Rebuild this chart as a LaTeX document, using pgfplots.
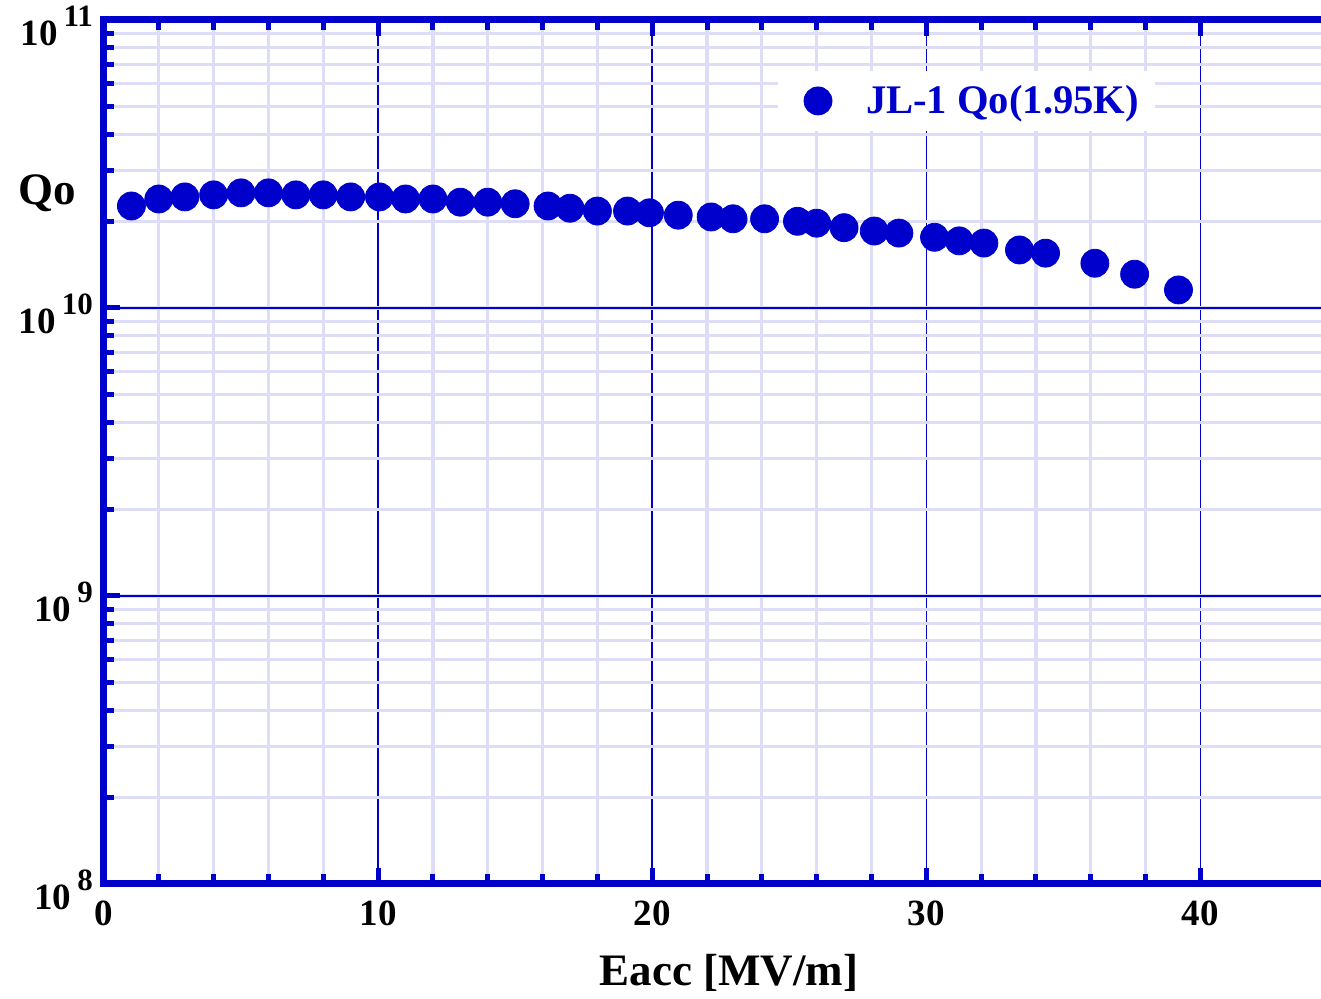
\documentclass[border=0pt]{standalone}
\usepackage{pgfplots}
\pgfplotsset{compat=1.18}
\usepackage{fontspec}
\setmainfont{Liberation Serif}
\definecolor{qblue}{RGB}{0,0,205}
\definecolor{gridlav}{RGB}{221,221,248}
% power-of-ten tick label with a large raised exponent
\newcommand\pw[1]{10\hspace{3pt}\raisebox{9.5pt}{\fontsize{15.5}{16}\selectfont #1}}
\begin{document}
\begin{tikzpicture}
\begin{axis}[
  name=ax,
  at={(0pt,0pt)}, anchor=south west,
  scale only axis,
  width=608.5pt, height=432pt,
  xmin=0, xmax=44.4,
  ymode=log, ymin=1e8, ymax=1e11,
  axis x line*=box, axis y line*=left,
  axis line style={qblue, line width=3.5pt, -, line cap=rect},
  tick align=inside,
  xtick={0,10,20,30,40},
  xticklabels={0,10,20,30,40},
  minor x tick num=4,
  xtick pos=both,
  ytick={1e8,1e9,1e10,1e11},
  yticklabels={\pw{8},\pw{9},\pw{10},\pw{11}},
  ytick pos=left,
  tick style={qblue, line width=2.5pt},
  major tick length=8pt,
  minor tick length=5pt,
  grid=both,
  major grid style={qblue, line width=0.8pt},
  minor grid style={gridlav, line width=1.6pt},
  tick label style={font=\fontsize{18.5}{20}\selectfont\bfseries, text=black},
  yticklabel style={anchor=base east, yshift=-13pt, xshift=-2pt},
  xticklabel style={anchor=base, yshift=-21pt},
  xlabel={Eacc [MV/m]},
  xlabel style={at={(rel axis cs:0.5136,0)}, anchor=center, yshift=-44.5pt,
    font=\fontsize{22.5}{24}\selectfont\bfseries},
  ylabel={Qo},
  ylabel style={at={(rel axis cs:-0.0468,0.80)}, anchor=center, rotate=-90,
    font=\fontsize{22.5}{24}\selectfont\bfseries},
  legend style={at={(rel axis cs:0.5535,0.9410)}, anchor=north west,
    draw=none, fill=white, font=\fontsize{20.3}{22}\selectfont\bfseries,
    text=qblue, inner xsep=6pt, inner ysep=5pt},
  legend image code/.code={\path[draw=none, fill=none] (0pt,-5pt) rectangle (36pt,5pt);
    \draw plot coordinates {(14pt,0pt)};},
]
\addplot[only marks, mark=*, mark size=7pt, color=qblue,
  mark options={fill=qblue, draw=qblue}] coordinates {
  (1.0,2.26e10) (2.0,2.39e10) (2.95,2.43e10) (4.0,2.47e10) (5.0,2.51e10)
  (6.0,2.51e10) (7.0,2.47e10) (8.0,2.47e10) (9.0,2.43e10) (10.05,2.43e10)
  (11.0,2.39e10) (12.0,2.39e10) (13.0,2.33e10) (14.0,2.33e10) (15.0,2.30e10)
  (16.2,2.26e10) (17.0,2.22e10) (18.0,2.17e10) (19.1,2.17e10) (19.9,2.14e10)
  (20.95,2.10e10) (22.15,2.07e10) (22.95,2.04e10) (24.1,2.04e10) (25.3,2.00e10)
  (26.0,1.97e10) (27.0,1.90e10) (28.1,1.85e10) (29.0,1.82e10) (30.3,1.76e10)
  (31.2,1.71e10) (32.1,1.68e10) (33.4,1.59e10) (34.35,1.55e10) (36.15,1.43e10)
  (37.6,1.31e10) (39.2,1.155e10)
};
\addlegendentry{JL-1 Qo(1.95K)}
\end{axis}
\pgfresetboundingbox
\useasboundingbox (-52pt,-57.5pt) rectangle (608.5pt,442pt);
\end{tikzpicture}
\end{document}
